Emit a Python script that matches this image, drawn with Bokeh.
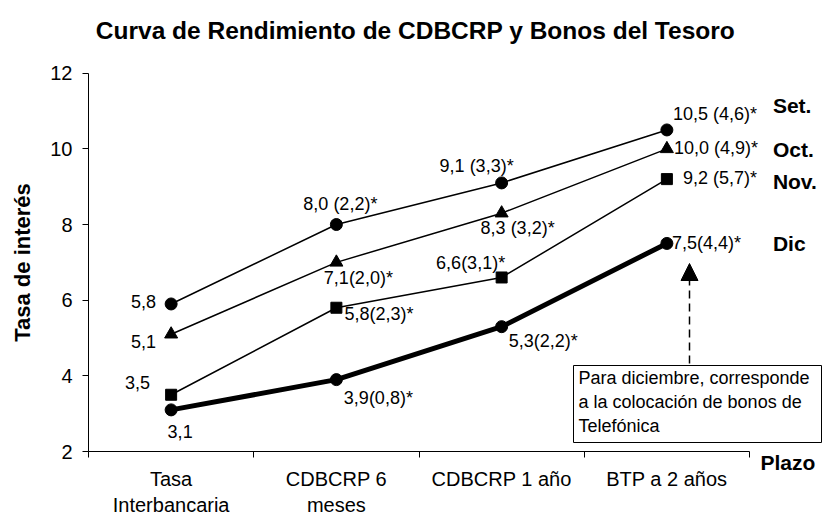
from bokeh.plotting import figure
from bokeh.models import LinearAxis, FixedTicker, Range1d, ColumnDataSource, Arrow, NormalHead
from bokeh.core.properties import value
from bokeh.embed import file_html
from bokeh.resources import INLINE

# ---------------- data ----------------
categories = ["Tasa\nInterbancaria", "CDBCRP 6\nmeses", "CDBCRP 1 año", "BTP a 2 años"]
months = ["Set.", "Oct.", "Nov.", "Dic"]
set_vals = [5.9, 8.0, 9.1, 10.5]
oct_vals = [5.1, 7.0, 8.3, 10.0]
nov_vals = [3.5, 5.8, 6.6, 9.2]
dic_vals = [3.1, 3.9, 5.3, 7.5]
set_labels = ["5,8", "8,0 (2,2)*", "9,1 (3,3)*", "10,5 (4,6)*"]
oct_labels = ["5,1", "7,1(2,0)*", "8,3 (3,2)*", "10,0 (4,9)*"]
nov_labels = ["3,5", "5,8(2,3)*", "6,6(3,1)*", "9,2 (5,7)*"]
dic_labels = ["3,1", "3,9(0,8)*", "5,3(2,2)*", "7,5(4,4)*"]
y_ticks = [2, 4, 6, 8, 10, 12]
title_text = "Curva de Rendimiento de CDBCRP y Bonos del Tesoro"
y_title = "Tasa de interés"
x_title = "Plazo"
note_lines = ["Para diciembre, corresponde", "a la colocación de bonos de", "Telefónica"]

# ---------------- layout helpers (canvas pixels -> data) ----------------
W, H = 822, 516
LEFT = 88          # x = 0 position inside figure
XPX = 165.25       # pixels per category
Y2 = 451           # y = 2 position from figure top
YPX = 37.83        # pixels per unit


def dx(px):
    return (px - LEFT) / XPX


def dy(py):
    return 2 + (Y2 - py) / YPX


FONT_NAME = "Liberation Sans"
FONT = value(FONT_NAME)
xpos = [i + 0.5 for i in range(len(categories))]

p = figure(width=W, height=H, output_backend="svg", toolbar_location=None,
           x_range=Range1d(-LEFT / XPX, (W - LEFT) / XPX),
           y_range=Range1d(2 - (H - Y2) / YPX, 2 + Y2 / YPX),
           x_axis_location=None, y_axis_location=None, title=None,
           min_border=0, outline_line_color=None,
           background_fill_color="white", border_fill_color="white")
p.grid.visible = False

# axes
xaxis = LinearAxis(fixed_location=2, bounds=(0, len(categories)),
                   ticker=FixedTicker(ticks=xpos, minor_ticks=list(range(len(categories) + 1))),
                   major_label_overrides={xv: c for xv, c in zip(xpos, categories)},
                   major_tick_in=0, major_tick_out=0, minor_tick_in=0, minor_tick_out=6,
                   axis_line_color="black", minor_tick_line_color="black",
                   major_label_text_font=FONT_NAME, major_label_text_font_size="20px",
                   major_label_text_color="black", major_label_text_line_height=1.2,
                   major_label_standoff=10)
yaxis = LinearAxis(fixed_location=0, bounds=(2, 12), ticker=FixedTicker(ticks=y_ticks),
                   major_tick_in=0, major_tick_out=6, minor_tick_out=0, minor_tick_in=0,
                   axis_line_color="black", major_tick_line_color="black",
                   major_label_text_font=FONT_NAME, major_label_text_font_size="20px",
                   major_label_text_color="black", major_label_standoff=10,
                   axis_label=y_title, axis_label_text_font=FONT_NAME,
                   axis_label_text_font_size="22px", axis_label_text_font_style="bold",
                   axis_label_text_color="black", axis_label_standoff=12)
p.add_layout(xaxis, "below")
p.add_layout(yaxis, "left")

# series
series = [
    (set_vals, "circle", 1.5, 12),
    (oct_vals, "triangle", 1.5, 13),
    (nov_vals, "square", 1.5, 11),
    (dic_vals, "circle", 5, 12),
]
for vals, marker, lw, ms in series:
    p.line(xpos, vals, line_color="black", line_width=lw)
    p.scatter(xpos, vals, marker=marker, size=ms, fill_color="black", line_color="black")

# value labels (offsets in pixels)
label_x_off = [[-15, 4, -25, 6], [-15, 22, 16, 7], [-21, 8, -31, 16], [9, 42, 7, 5]]
label_y_off = [[-2, -21, -17, -16], [7, 16, 15, -1], [-12, 6, -14, -1], [22, 18, 14, 0]]
label_align = [["right", "center", "center", "left"], ["right", "center", "center", "left"],
               ["right", "left", "center", "left"], ["center", "center", "left", "left"]]
lx, ly, lt, lxo, lyo, la = [], [], [], [], [], []
for vals, labs, xo, yo, al in zip([set_vals, oct_vals, nov_vals, dic_vals],
                                  [set_labels, oct_labels, nov_labels, dic_labels],
                                  label_x_off, label_y_off, label_align):
    lx += xpos
    ly += vals
    lt += labs
    lxo += xo
    lyo += yo
    la += al
src = ColumnDataSource(dict(x=lx, y=ly, text=lt, xo=lxo, yo=lyo, align=la))
p.text(x="x", y="y", text="text", x_offset="xo", y_offset="yo", text_align="align",
       text_baseline="middle", text_font=FONT, text_font_size="18px", text_color="black",
       source=src)

# month labels next to the last points
last_vals = [set_vals[-1], oct_vals[-1], nov_vals[-1], dic_vals[-1]]
p.text(x=[xpos[-1]] * 4, y=last_vals, text=months, x_offset=106, y_offset=[-24, 1, 2, 0],
       text_align="left", text_baseline="middle", text_font=FONT, text_font_size="21px",
       text_font_style="bold", text_color="black")

# title and x title
p.text(x=[dx(415)], y=[dy(30)], text=[title_text], text_align="center",
       text_baseline="alphabetic", text_font=FONT, text_font_size="24.5px",
       text_font_style="bold", text_color="black")
p.text(x=[dx(760)], y=[dy(462)], text=[x_title], text_align="left",
       text_baseline="middle", text_font=FONT, text_font_size="21px",
       text_font_style="bold", text_color="black")

# note box and arrow
p.quad(left=[dx(573)], right=[dx(821)], top=[dy(365)], bottom=[dy(442)],
       fill_color="white", line_color="black", line_width=1)
p.text(x=[dx(578)] * 3, y=[dy(377.7), dy(401.7), dy(425)], text=note_lines,
       text_align="left", text_baseline="middle", text_font=FONT, text_font_size="18px",
       text_color="black")
p.add_layout(Arrow(x_start=dx(689), y_start=dy(363), x_end=dx(689), y_end=dy(263),
                   line_color="black", line_width=1.5, line_dash="8 5",
                   end=NormalHead(size=17, fill_color="black", line_color="black")))

open("out.html", "w").write(file_html(p, INLINE))
